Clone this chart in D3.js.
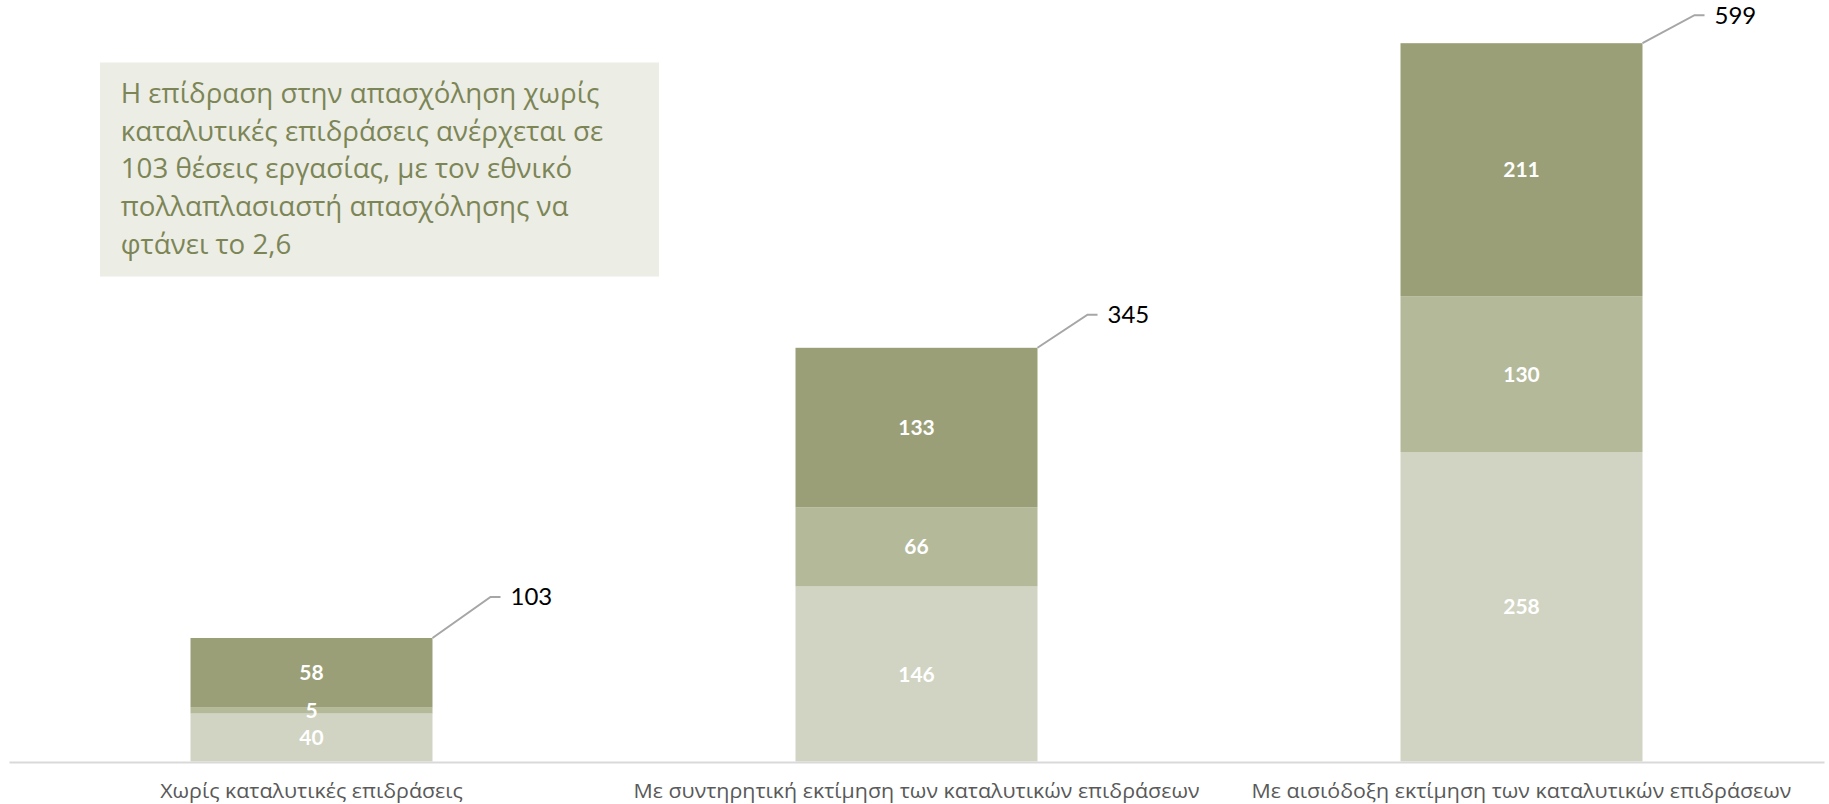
<!DOCTYPE html>
<html>
<head>
<meta charset="utf-8">
<script src="https://cdn.jsdelivr.net/npm/d3@7"></script>
<style>
  html, body { margin: 0; padding: 0; background: #ffffff; }
  svg { display: block; }
</style>
</head>
<body>
<svg id="chart" width="1829" height="804"></svg>
<script>
// ---------- data ----------
const categories = [
  "Χωρίς καταλυτικές επιδράσεις",
  "Με συντηρητική εκτίμηση των καταλυτικών επιδράσεων",
  "Με αισιόδοξη εκτίμηση των καταλυτικών επιδράσεων"
];
const seriesKeys = ["bottom", "middle", "top"];
const bottomValues = [40, 146, 258];
const middleValues = [5, 66, 130];
const topValues = [58, 133, 211];
const totals = [103, 345, 599];
const noteLines = [
  "Η επίδραση στην απασχόληση χωρίς",
  "καταλυτικές επιδράσεις ανέρχεται σε",
  "103 θέσεις εργασίας, με τον εθνικό",
  "πολλαπλασιαστή απασχόλησης να",
  "φτάνει το 2,6"
];

// ---------- layout / style ----------
const colors = { bottom: "#d1d4c2", middle: "#b4b99a", top: "#9a9f77" };
const leaderOffsets = [[58, -41], [50, -33], [52, -28]];

const svg = d3.select("#chart");

const rows = categories.map((c, i) => ({
  category: c, bottom: bottomValues[i], middle: middleValues[i], top: topValues[i], total: totals[i]
}));

const x = d3.scaleBand().domain(categories).range([9, 1824]).paddingInner(0.6).paddingOuter(0.3);
const y = d3.scaleLinear().domain([0, 600]).range([761.5, 42]);

const stacked = d3.stack().keys(seriesKeys)(rows);

// bars
const layers = svg.append("g").selectAll("g").data(stacked).join("g")
  .attr("fill", d => colors[d.key]);
layers.selectAll("rect").data(d => d).join("rect")
  .attr("x", d => x(d.data.category))
  .attr("width", x.bandwidth())
  .attr("y", d => y(d[1]))
  .attr("height", d => y(d[0]) - y(d[1]));

// segment labels
const segLabels = svg.append("g");
stacked.forEach(layer => {
  segLabels.selectAll(null).data(layer).join("text")
    .attr("x", d => x(d.data.category) + x.bandwidth() / 2)
    .attr("y", d => (y(d[0]) + y(d[1])) / 2)
    .attr("dy", "0.36em")
    .attr("text-anchor", "middle")
    .attr("fill", "#ffffff")
    .attr("font-family", "Lato, 'DejaVu Sans', sans-serif")
    .attr("font-weight", "bold")
    .attr("font-size", 21)
    .text(d => d[1] - d[0]);
});

// x axis
const axis = svg.append("g")
  .attr("transform", "translate(0,762)")
  .call(d3.axisBottom(x).tickSize(0).tickSizeOuter(0));
axis.select(".domain").attr("stroke", "#d9d9d9").attr("stroke-width", 2);
const axisTexts = axis.selectAll("text")
  .attr("y", 36).attr("dy", 0)
  .attr("fill", "#595959")
  .attr("font-family", "'Open Sans', sans-serif")
  .attr("font-size", 20);
// condense to mimic the narrower original face
const w0 = axisTexts.nodes()[0].getComputedTextLength();
const sxAxis = 303 / w0;
axisTexts.attr("transform", `scale(${sxAxis},1)`);

// total labels with leader lines
const totalsG = svg.append("g");
rows.forEach((r, i) => {
  const x0 = x(r.category) + x.bandwidth();
  const y0 = y(r.total);
  const [dx, dy] = leaderOffsets[i];
  const x1 = x0 + dx, y1 = y0 + dy, x2 = x1 + 10;
  totalsG.append("path")
    .attr("d", `M${x0},${y0}L${x1},${y1}L${x2},${y1}`)
    .attr("fill", "none")
    .attr("stroke", "#a6a6a6")
    .attr("stroke-width", 2);
  totalsG.append("text")
    .attr("x", x2 + 10)
    .attr("y", y1 + 8.5)
    .attr("fill", "#000000")
    .attr("font-family", "Lato, 'DejaVu Sans', sans-serif")
    .attr("font-size", 24)
    .text(r.total);
});

// note box
const note = svg.append("g");
note.append("rect")
  .attr("x", 100).attr("y", 62.5)
  .attr("width", 559).attr("height", 214)
  .attr("fill", "#ecede5");
const noteText = note.append("g");
const tLines = noteText.selectAll("text").data(noteLines).join("text")
  .attr("x", 0)
  .attr("y", (d, i) => 103.3 + i * 37.6)
  .attr("fill", "#7c8556")
  .attr("font-family", "'Open Sans', sans-serif")
  .attr("font-size", 28)
  .text(d => d);
const wLine2 = tLines.nodes()[1].getComputedTextLength();
const sxNote = 482.6 / wLine2;
noteText.attr("transform", `translate(120.7,0) scale(${sxNote},1)`);
</script>
</body>
</html>
